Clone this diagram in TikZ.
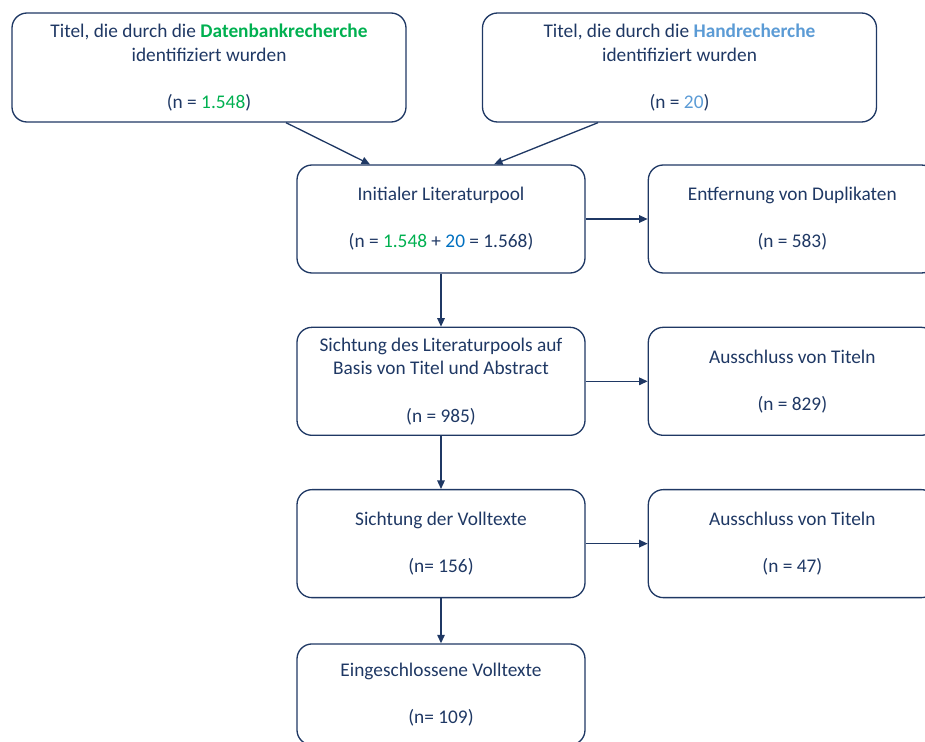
\documentclass[tikz,border=0pt]{standalone}
\usepackage{fontspec}
\setmainfont{Carlito}
\usepackage{xcolor}
\usetikzlibrary{positioning, arrows.meta}

\definecolor{navy}{HTML}{1F3864}
\definecolor{dbgreen}{HTML}{00B050}
\definecolor{handblue}{HTML}{5B9BD5}
\definecolor{poolblue}{HTML}{0070C0}

\begin{document}
\begin{tikzpicture}[
  node distance=1.06cm and 1.24cm,
  every node/.style={font=\fontsize{11}{13.4}\selectfont, text=navy},
  box/.style={rectangle, rounded corners=0.3cm, draw=navy, line width=0.75pt,
              minimum width=5.76cm, minimum height=2.16cm, align=center,
              inner sep=0pt},
  srcbox/.style={box, minimum width=7.88cm, minimum height=2.18cm},
  arr/.style={-{Triangle[length=1.7mm, width=1.5mm]}, draw=navy, line width=0.75pt}
]
\useasboundingbox (0,0) rectangle (18.5,-14.84);
% ── Quellen ────────────────────────────────────
\node[srcbox] (dbs) at (4.18,-1.35)
  {Titel, die durch die \textcolor{dbgreen}{\textbf{Datenbankrecherche}}\\
   identifiziert wurden\\[\baselineskip]
   (n = \textcolor{dbgreen}{1.548})};
\node[srcbox] (hand) at (13.59,-1.35)
  {Titel, die durch die \textcolor{handblue}{\textbf{Handrecherche}}\\
   identifiziert wurden\\[\baselineskip]
   (n = \textcolor{handblue}{20})};
% ── Hauptstrang ────────────────────────────────
\node[box] (pool) at (8.82,-4.38)
  {Initialer Literaturpool\\[\baselineskip]
   (n = \textcolor{dbgreen}{1.548} + \textcolor{poolblue}{20} = 1.568)};
\node[box, below=of pool] (screen)
  {Sichtung des Literaturpools auf\\
   Basis von Titel und Abstract\\[\baselineskip]
   (n = 985)};
\node[box, below=of screen] (full)
  {Sichtung der Volltexte\\[\baselineskip](n= 156)};
\node[box, below=0.9cm of full, minimum height=2.02cm] (incl)
  {Eingeschlossene Volltexte\\[\baselineskip](n= 109)};
% ── Ausschluesse ───────────────────────────────
\node[box, right=of pool] (dup)
  {Entfernung von Duplikaten\\[\baselineskip](n = 583)};
\node[box, right=of screen] (excl1)
  {Ausschluss von Titeln\\[\baselineskip](n = 829)};
\node[box, right=of full] (excl2)
  {Ausschluss von Titeln\\[\baselineskip](n = 47)};
% ── Pfeile ─────────────────────────────────────
\draw[arr] ([xshift=1.54cm]dbs.south) -- ([xshift=-1.42cm]pool.north);
\draw[arr] ([xshift=-1.63cm]hand.south) -- ([xshift=1.06cm]pool.north);
\draw[arr] (pool) -- (dup);
\draw[arr] (pool) -- (screen);
\draw[arr] (screen) -- (excl1);
\draw[arr] (screen) -- (full);
\draw[arr] (full) -- (excl2);
\draw[arr] (full) -- (incl);
\end{tikzpicture}
\end{document}
